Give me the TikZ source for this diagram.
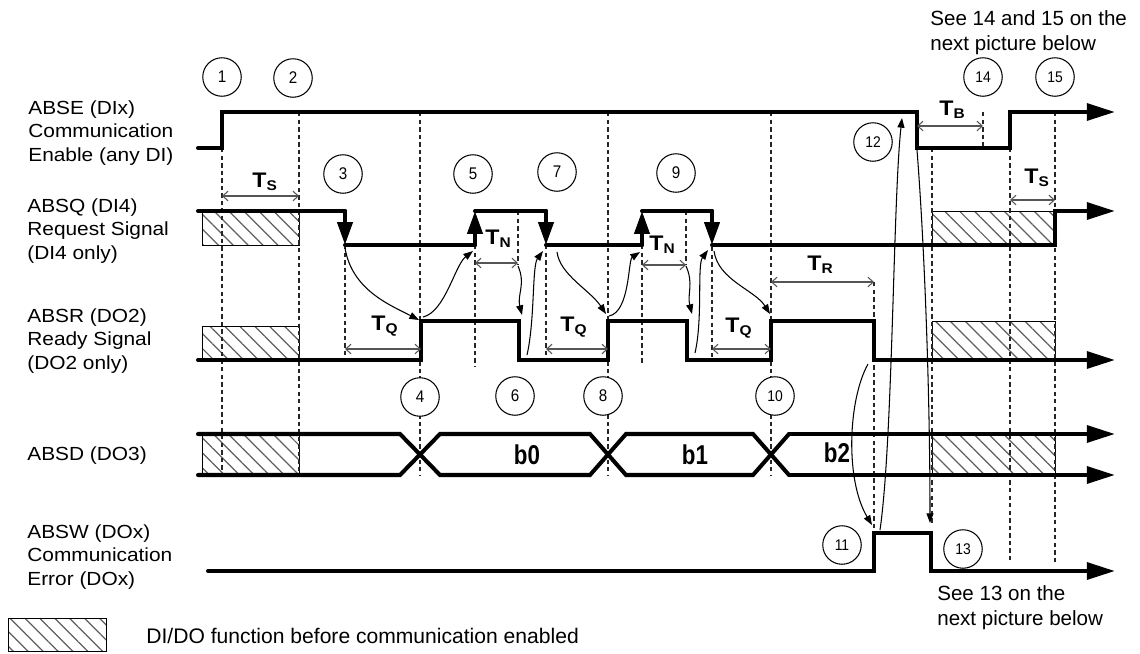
\documentclass[tikz,border=0pt]{standalone}
\usepackage{fontspec}
\setmainfont{Liberation Sans}
\newfontfamily\sigfont[FakeStretch=1.1]{Liberation Sans}
\newfontfamily\valfont[FakeStretch=0.82]{Liberation Sans}
\newfontfamily\numfont[FakeStretch=0.9]{Liberation Sans}
\usetikzlibrary{arrows.meta,patterns.meta}
\definecolor{sigink}{RGB}{0,0,0}
\definecolor{dimink}{RGB}{85,85,85}
\definecolor{hatchink}{RGB}{95,95,95}
\newcommand{\tdur}[1]{T\textsubscript{#1}}

\begin{document}
\begin{tikzpicture}[
  x=0.02cm, y=-0.02cm,
  sig/.style={draw=sigink, line width=2.3pt, line cap=round, line join=miter},
  sigend/.style={sig, -{Triangle[length=16pt,width=9.5pt]}},
  edgetip/.style={sig, -{Triangle[length=13pt,width=8.5pt]}},
  guide/.style={draw=black!85, line width=0.6pt, dash pattern=on 2.5pt off 1.8pt},
  dim/.style={draw=dimink, line width=0.6pt,
    {Straight Barb[length=3pt,width=5.5pt]}-{Straight Barb[length=3pt,width=5.5pt]}},
  cause/.style={draw=black, line width=0.6pt, -{Triangle[length=5.5pt,width=4pt]}},
  hatch/.style={draw=black, line width=0.4pt, pattern color=hatchink,
    pattern={Lines[angle=-45,distance=6pt,line width=0.7pt]}},
  marker/.style={circle, draw, line width=0.6pt, fill=white, minimum size=0.77cm,
    inner sep=0pt, font=\numfont\fontsize{9.6}{10}\selectfont},
  marker2/.style={marker, font=\numfont\fontsize{8.8}{10}\selectfont},
  sigtext/.style={font=\sigfont\fontsize{10.8}{13.4}\selectfont, align=left,
    anchor=west, inner sep=0pt},
  durtext/.style={font=\sigfont\bfseries\fontsize{12}{14}\selectfont,
    anchor=base west, inner sep=0pt},
  bittext/.style={font=\valfont\bfseries\fontsize{15.5}{18}\selectfont, inner sep=0pt},
  note/.style={font=\fontsize{11.7}{14.2}\selectfont, align=left, anchor=west,
    inner sep=0pt},
]
  \useasboundingbox (0,0) rectangle (1140,653);

  % --- Hatched areas (function before communication enabled) ---
  \path[hatch] (202,211) rectangle (299,245);
  \path[hatch] (202,326) rectangle (299,360);
  \path[hatch] (202,434) rectangle (299,475);
  \path[hatch] (932,211) rectangle (1055,245);
  \path[hatch] (932,321) rectangle (1055,360);
  \path[hatch] (932,434) rectangle (1055,475);

  % --- Guide lines ---
  \foreach \x/\ya/\yb in {222/148/475, 299/112/475, 345/245/360, 420/112/475,
      475/245/367, 518/211/264, 546/245/360, 608/112/475, 642/245/363,
      686/211/265, 712/247/360, 771/112/475, 874/282/533, 932/148/523,
      983/112/148, 1010/148/560, 1055/112/563}
    \draw[guide] (\x,\ya) -- (\x,\yb);

  % --- ABSE ---
  \draw[sigend] (198,148) -- (222,148) -- (222,112) -- (917,112) -- (917,148)
    -- (1010,148) -- (1010,112) -- (1115,112);

  % --- ABSQ ---
  \draw[sig] (198,211) -- (345,211);
  \draw[edgetip] (345,211) -- (345,245);
  \draw[sig] (345,245) -- (475,245);
  \draw[edgetip] (475,245) -- (475,211);
  \draw[sig] (475,211) -- (546,211);
  \draw[edgetip] (546,211) -- (546,245);
  \draw[sig] (546,245) -- (642,245);
  \draw[edgetip] (642,245) -- (642,211);
  \draw[sig] (642,211) -- (712,211);
  \draw[edgetip] (712,211) -- (712,245);
  \draw[sigend] (712,245) -- (1055,245) -- (1055,211) -- (1115,211);

  % --- ABSR ---
  \draw[sigend] (198,360) -- (421,360) -- (421,321) -- (519,321) -- (519,360)
    -- (608,360) -- (608,321) -- (687,321) -- (687,360) -- (771,360)
    -- (771,321) -- (874,321) -- (874,360) -- (1115,360);

  % --- ABSD ---
  \draw[sig] (198,434) -- (400,434) -- (440,475) -- (590,475) -- (626,434)
    -- (753,434) -- (789,475);
  \draw[sig] (198,475) -- (400,475) -- (440,434) -- (590,434) -- (626,475)
    -- (753,475) -- (789,434);
  \draw[sigend] (789,434) -- (1115,434);
  \draw[sigend] (789,475) -- (1115,475);

  % --- ABSW ---
  \draw[sigend] (208,571) -- (874,571) -- (874,533) -- (931,533) -- (931,571)
    -- (1115,571);

  % --- Durations ---
  \draw[dim] (222,196) -- (299,196);
  \draw[dim] (345,349) -- (421,349);
  \draw[dim] (475,263) -- (518,263);
  \draw[dim] (546,349) -- (608,349);
  \draw[dim] (642,265) -- (686,265);
  \draw[dim] (712,349) -- (771,349);
  \draw[dim] (771,282) -- (874,282);
  \draw[dim] (917,126) -- (983,126);
  \draw[dim] (1010,200) -- (1055,200);
  \node[durtext] (ts1) at (252,187) {\tdur{S}};
  \node[durtext] (tq1) at (371,330) {\tdur{Q}};
  \node[durtext] (tn1) at (485,244) {\tdur{N}};
  \node[durtext] (tq2) at (560,331) {\tdur{Q}};
  \node[durtext] (tn2) at (649,250) {\tdur{N}};
  \node[durtext] (tq3) at (725,332) {\tdur{Q}};
  \node[durtext] (tr) at (807,270) {\tdur{R}};
  \node[durtext] (tb) at (939,115) {\tdur{B}};
  \node[durtext] (ts2) at (1024,183) {\tdur{S}};

  % --- Handshake points ---
  \coordinate (qa) at (345,248);  \coordinate (ra) at (419,320);
  \coordinate (rb) at (423,317);  \coordinate (qb) at (473,251);
  \coordinate (na) at (518,266);  \coordinate (rc) at (522,315);
  \coordinate (rd) at (527,355);  \coordinate (qc) at (543,251);
  \coordinate (qd) at (557,252);  \coordinate (re) at (606,314);
  \coordinate (rf) at (609,316);  \coordinate (qe) at (640,252);
  \coordinate (nb) at (686,266);  \coordinate (rg) at (692,314);
  \coordinate (rh) at (695,353);  \coordinate (qf) at (708,250);
  \coordinate (qg) at (714,251);  \coordinate (ri) at (770,314);
  \coordinate (rj) at (868,364);  \coordinate (wa) at (872,525);
  \coordinate (wb) at (880,530);  \coordinate (ea) at (902,118);
  \coordinate (eb) at (917,150);  \coordinate (wc) at (930,523);

  \draw[cause] (qa) .. controls +(7,42) and +(-29,-15) .. (ra);
  \draw[cause] (rb) .. controls +(22,-5) and +(-18,14) .. (qb);
  \draw[cause] (na) .. controls +(8,18) and +(-5,-20) .. (rc);
  \draw[cause] (rd) .. controls +(8,-35) and +(-11,15) .. (qc);
  \draw[cause] (qd) .. controls +(3,23) and +(-16,-24) .. (re);
  \draw[cause] (rf) .. controls +(21,-4) and +(-12,8) .. (qe);
  \draw[cause] (nb) .. controls +(8,18) and +(-5,-20) .. (rg);
  \draw[cause] (rh) .. controls +(8,-35) and +(-11,15) .. (qf);
  \draw[cause] (qg) .. controls +(4,29) and +(-15,-24) .. (ri);
  \draw[cause] (rj) .. controls +(-20,36) and +(-27,-45) .. (wa);
  \draw[cause] (wb) .. controls +(13,-90) and +(-9,82) .. (ea);
  \draw[cause] (eb) .. controls +(8,102) and +(0,-123) .. (wc);

  % --- Event markers ---
  \node[marker] (m1) at (222,77) {1};
  \node[marker] (m2) at (293,78) {2};
  \node[marker] (m3) at (343,174) {3};
  \node[marker] (m5) at (473,174) {5};
  \node[marker] (m7) at (557,172) {7};
  \node[marker] (m9) at (676,173) {9};
  \node[marker] (m4) at (420,397) {4};
  \node[marker] (m6) at (515,396) {6};
  \node[marker] (m8) at (603,396) {8};
  \node[marker2] (m10) at (775,396) {10};
  \node[marker2] (m11) at (842,545) {11};
  \node[marker2] (m12) at (873,142) {12};
  \node[marker2] (m13) at (963,549) {13};
  \node[marker2] (m14) at (983,77) {14};
  \node[marker2] (m15) at (1055,77) {15};

  % --- Data bits ---
  \node[bittext] (b0) at (527,455) {b0};
  \node[bittext] (b1) at (695,455) {b1};
  \node[bittext] (b2) at (837,453) {b2};

  % --- Signal names ---
  \node[sigtext] (absE) at (28,133) {ABSE (DIx)\\Communication\\Enable (any DI)};
  \node[sigtext] (absQ) at (27,231) {ABSQ (DI4)\\Request Signal\\(DI4 only)};
  \node[sigtext] (absR) at (27,341) {ABSR (DO2)\\Ready Signal\\(DO2 only)};
  \node[sigtext] (absD) at (27,456) {ABSD (DO3)};
  \node[sigtext] (absW) at (27,557) {ABSW (DOx)\\Communication\\Error (DOx)};

  % --- Notes and legend ---
  \node[note] (seeA) at (930,33) {See 14 and 15 on the\\next picture below};
  \node[note] (seeB) at (937,608) {See 13 on the\\next picture below};
  \path[hatch] (8,618) rectangle (106,651);
  \node[note, font=\fontsize{12}{14}\selectfont] (legend) at (146,636)
    {DI/DO function before communication enabled};
\end{tikzpicture}
\end{document}
